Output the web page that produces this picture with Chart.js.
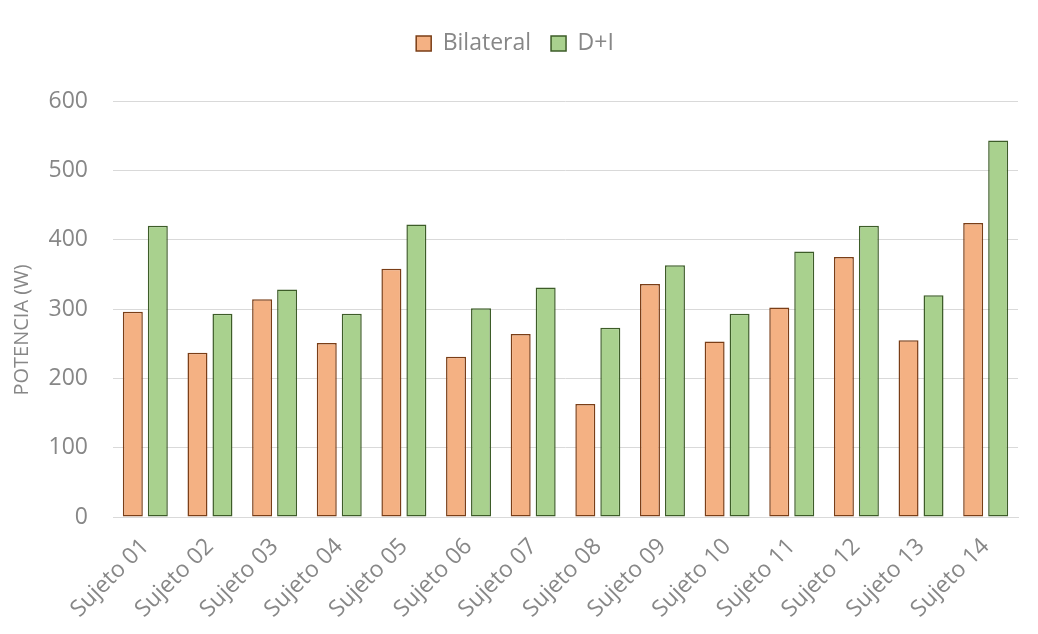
<!DOCTYPE html>
<html>
<head>
<meta charset="utf-8">
<script src="https://cdn.jsdelivr.net/npm/chart.js@4.4.1/dist/chart.umd.min.js"></script>
<style>
  html, body { margin: 0; padding: 0; background: #ffffff; }
  #wrap { width: 1038px; height: 634px; }
</style>
</head>
<body>
<div id="wrap"><canvas id="chart" width="1038" height="634"></canvas></div>
<script>
// Potencia por sujeto: bilateral frente a la suma derecha + izquierda
const categories = ['Sujeto 01', 'Sujeto 02', 'Sujeto 03', 'Sujeto 04', 'Sujeto 05', 'Sujeto 06', 'Sujeto 07',
                    'Sujeto 08', 'Sujeto 09', 'Sujeto 10', 'Sujeto 11', 'Sujeto 12', 'Sujeto 13', 'Sujeto 14'];
const bilateral = [296, 237, 314, 251, 358, 231, 264, 163, 336, 253, 302, 375, 255, 424];
const derechaMasIzquierda = [420, 293, 328, 293, 422, 301, 331, 273, 363, 293, 383, 420, 320, 543];
const yTicks = [0, 100, 200, 300, 400, 500, 600];
const yTitle = 'POTENCIA (W)';

const FONT = '"Open Sans", "Segoe UI", "DejaVu Sans", sans-serif';
const TEXT = '#878787';
const GRID = '#d9d9d9';

// extra space between the legend and the plot, and a small nudge to the right
const legendGap = {
  id: 'legendGap',
  beforeInit(chart) {
    const fit = chart.legend.fit;
    chart.legend.fit = function () {
      fit.call(this);
      this.height += 36;
    };
  },
  afterLayout(chart) {
    chart.legend.left += 6;
    chart.legend.right += 6;
  }
};

// vertical axis title
const axisTitle = {
  id: 'axisTitle',
  afterDraw(chart) {
    const { ctx, chartArea } = chart;
    ctx.save();
    ctx.translate(22, (chartArea.top + chartArea.bottom) / 2 + 21);
    ctx.rotate(-Math.PI / 2);
    ctx.font = '20px ' + FONT;
    ctx.fillStyle = TEXT;
    ctx.textAlign = 'center';
    ctx.textBaseline = 'middle';
    ctx.fillText(yTitle, 0, 0);
    ctx.restore();
  }
};

new Chart(document.getElementById('chart'), {
  type: 'bar',
  data: {
    labels: categories,
    datasets: [
      {
        label: 'Bilateral',
        data: bilateral,
        backgroundColor: '#F4B183',
        borderColor: '#7A3E17',
        borderWidth: 1.5,
        borderSkipped: false,
        categoryPercentage: 0.773,
        barPercentage: 0.8
      },
      {
        label: 'D+I',
        data: derechaMasIzquierda,
        backgroundColor: '#A9D18E',
        borderColor: '#3D5C28',
        borderWidth: 1.5,
        borderSkipped: false,
        categoryPercentage: 0.773,
        barPercentage: 0.8
      }
    ]
  },
  options: {
    responsive: false,
    animation: false,
    devicePixelRatio: 1,
    layout: { padding: { top: 12, right: 20, left: 0, bottom: 0 } },
    plugins: {
      legend: {
        position: 'top',
        labels: {
          font: { family: FONT, size: 23 },
          color: TEXT,
          boxWidth: 15,
          boxHeight: 15,
          padding: 20
        }
      },
      tooltip: { enabled: false }
    },
    scales: {
      x: {
        grid: { display: false, drawTicks: false },
        border: { display: true, color: GRID, width: 1 },
        ticks: {
          autoSkip: false,
          maxRotation: 45,
          minRotation: 45,
          padding: 16,
          color: TEXT,
          font: { family: FONT, size: 23 }
        },
        afterFit(scale) { scale.height = 117; }
      },
      y: {
        min: 0,
        max: 600,
        afterBuildTicks(scale) { scale.ticks = yTicks.map(v => ({ value: v })); },
        grid: { color: GRID, lineWidth: 1, drawTicks: false },
        border: { display: false },
        ticks: {
          padding: 25,
          color: TEXT,
          font: { family: FONT, size: 23 }
        },
        afterFit(scale) { scale.width = 113; }
      }
    }
  },
  plugins: [legendGap, axisTitle]
});
</script>
</body>
</html>
